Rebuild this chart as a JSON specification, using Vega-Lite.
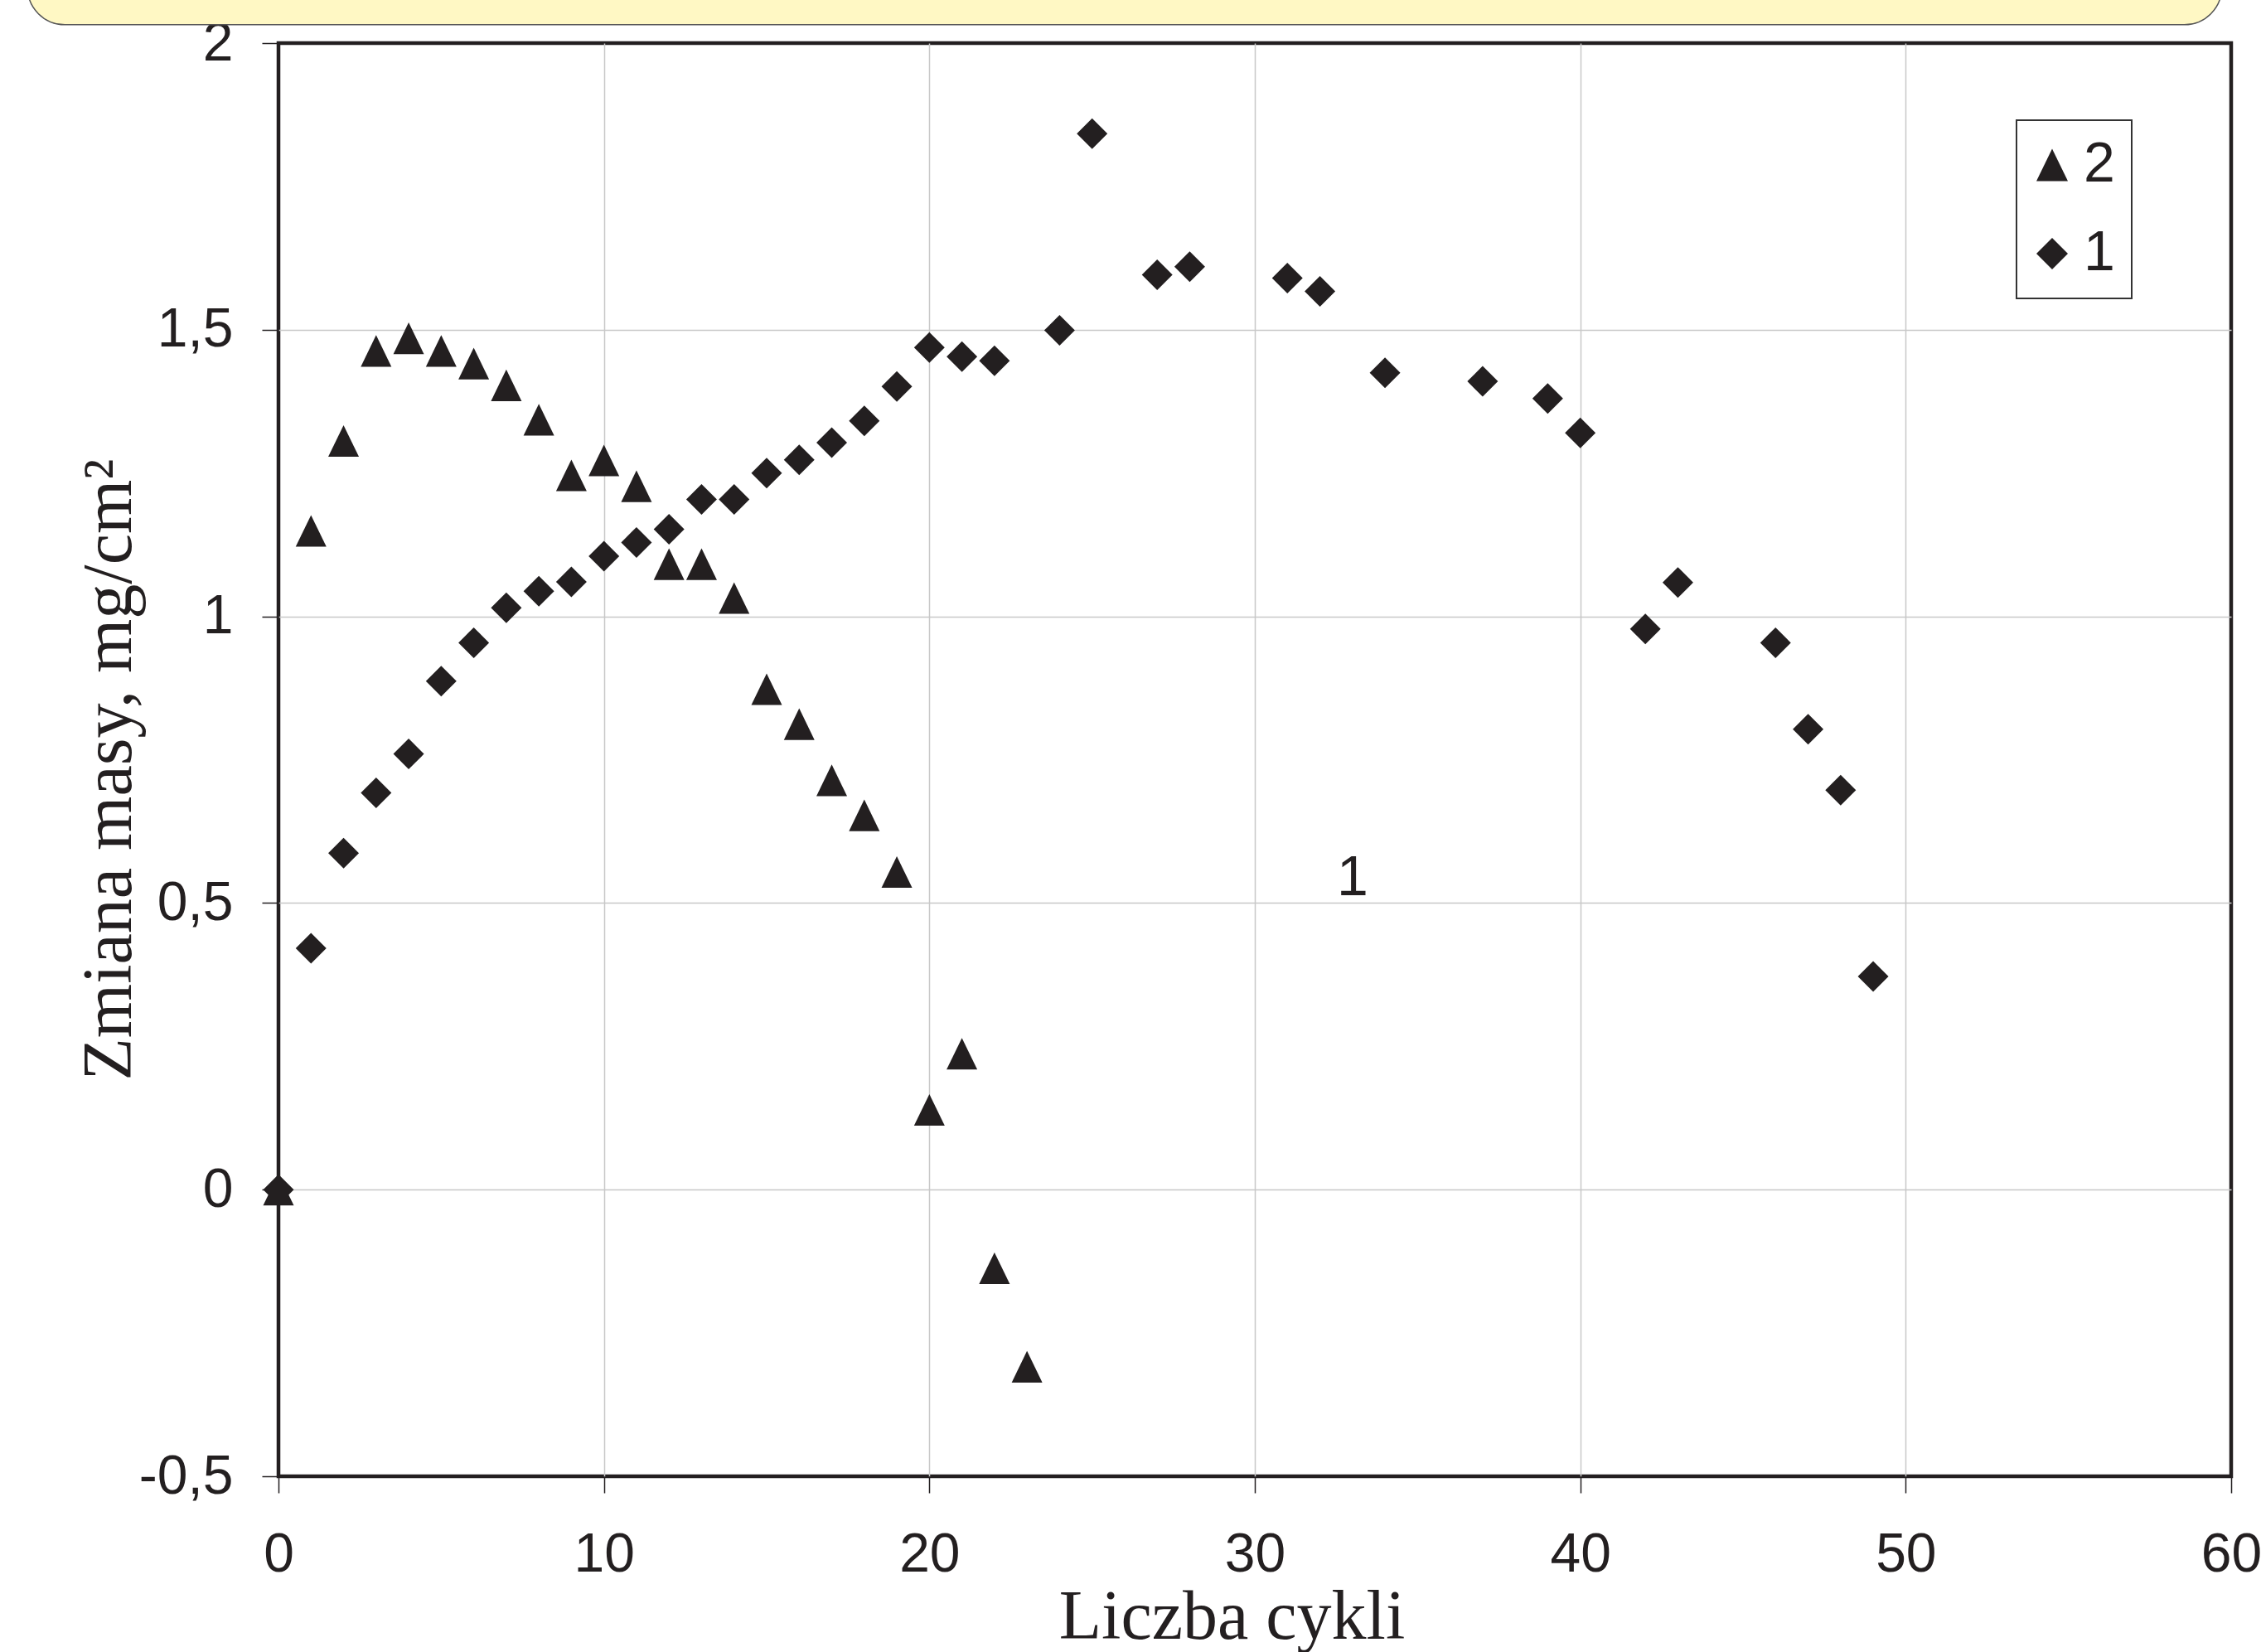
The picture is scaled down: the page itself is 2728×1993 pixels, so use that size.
{
  "$schema": "https://vega.github.io/schema/vega-lite/v6.json",
  "width": 2356,
  "height": 1729,
  "autosize": {"type": "none"},
  "padding": {"left": 336, "top": 52, "right": 36, "bottom": 212},
  "background": "white",
  "config": {
    "view": {"stroke": "#231f20", "strokeWidth": 4.5},
    "legend": {"strokeWidth": 2},
    "axis": {
      "domain": false,
      "grid": true,
      "gridColor": "#c8c8c8",
      "gridWidth": 1.5,
      "ticks": true,
      "tickColor": "#231f20",
      "tickWidth": 1.5,
      "tickSize": 20,
      "labelFont": "'Liberation Sans', Arial, Helvetica, sans-serif",
      "labelFontSize": 66,
      "labelColor": "#231f20",
      "labelOverlap": false,
      "titleFont": "'Liberation Serif', 'Times New Roman', serif",
      "titleFontSize": 84,
      "titleFontWeight": "normal",
      "titleColor": "#231f20"
    }
  },
  "datasets": {
    "pomiary": [
      {"seria": "2", "cykl": 0, "zmiana": 0.0},
      {"seria": "2", "cykl": 1, "zmiana": 1.149},
      {"seria": "2", "cykl": 2, "zmiana": 1.306},
      {"seria": "2", "cykl": 3, "zmiana": 1.463},
      {"seria": "2", "cykl": 4, "zmiana": 1.485},
      {"seria": "2", "cykl": 5, "zmiana": 1.463},
      {"seria": "2", "cykl": 6, "zmiana": 1.441},
      {"seria": "2", "cykl": 7, "zmiana": 1.403},
      {"seria": "2", "cykl": 8, "zmiana": 1.343},
      {"seria": "2", "cykl": 9, "zmiana": 1.246},
      {"seria": "2", "cykl": 10, "zmiana": 1.272},
      {"seria": "2", "cykl": 11, "zmiana": 1.227},
      {"seria": "2", "cykl": 12, "zmiana": 1.091},
      {"seria": "2", "cykl": 13, "zmiana": 1.091},
      {"seria": "2", "cykl": 14, "zmiana": 1.032},
      {"seria": "2", "cykl": 15, "zmiana": 0.873},
      {"seria": "2", "cykl": 16, "zmiana": 0.812},
      {"seria": "2", "cykl": 17, "zmiana": 0.714},
      {"seria": "2", "cykl": 18, "zmiana": 0.653},
      {"seria": "2", "cykl": 19, "zmiana": 0.554},
      {"seria": "2", "cykl": 20, "zmiana": 0.139},
      {"seria": "2", "cykl": 21, "zmiana": 0.237},
      {"seria": "2", "cykl": 22, "zmiana": -0.137},
      {"seria": "2", "cykl": 23, "zmiana": -0.309},
      {"seria": "1", "cykl": 0, "zmiana": 0.0},
      {"seria": "1", "cykl": 1, "zmiana": 0.421},
      {"seria": "1", "cykl": 2, "zmiana": 0.587},
      {"seria": "1", "cykl": 3, "zmiana": 0.692},
      {"seria": "1", "cykl": 4, "zmiana": 0.76},
      {"seria": "1", "cykl": 5, "zmiana": 0.887},
      {"seria": "1", "cykl": 6, "zmiana": 0.954},
      {"seria": "1", "cykl": 7, "zmiana": 1.015},
      {"seria": "1", "cykl": 8, "zmiana": 1.044},
      {"seria": "1", "cykl": 9, "zmiana": 1.06},
      {"seria": "1", "cykl": 10, "zmiana": 1.105},
      {"seria": "1", "cykl": 11, "zmiana": 1.129},
      {"seria": "1", "cykl": 12, "zmiana": 1.152},
      {"seria": "1", "cykl": 13, "zmiana": 1.204},
      {"seria": "1", "cykl": 14, "zmiana": 1.204},
      {"seria": "1", "cykl": 15, "zmiana": 1.25},
      {"seria": "1", "cykl": 16, "zmiana": 1.273},
      {"seria": "1", "cykl": 17, "zmiana": 1.303},
      {"seria": "1", "cykl": 18, "zmiana": 1.341},
      {"seria": "1", "cykl": 19, "zmiana": 1.401},
      {"seria": "1", "cykl": 20, "zmiana": 1.469},
      {"seria": "1", "cykl": 21, "zmiana": 1.453},
      {"seria": "1", "cykl": 22, "zmiana": 1.446},
      {"seria": "1", "cykl": 24, "zmiana": 1.499},
      {"seria": "1", "cykl": 25, "zmiana": 1.842},
      {"seria": "1", "cykl": 27, "zmiana": 1.596},
      {"seria": "1", "cykl": 28, "zmiana": 1.61},
      {"seria": "1", "cykl": 31, "zmiana": 1.59},
      {"seria": "1", "cykl": 32, "zmiana": 1.567},
      {"seria": "1", "cykl": 34, "zmiana": 1.425},
      {"seria": "1", "cykl": 37, "zmiana": 1.41},
      {"seria": "1", "cykl": 39, "zmiana": 1.38},
      {"seria": "1", "cykl": 40, "zmiana": 1.32},
      {"seria": "1", "cykl": 42, "zmiana": 0.978},
      {"seria": "1", "cykl": 43, "zmiana": 1.059},
      {"seria": "1", "cykl": 46, "zmiana": 0.954},
      {"seria": "1", "cykl": 47, "zmiana": 0.803},
      {"seria": "1", "cykl": 48, "zmiana": 0.697},
      {"seria": "1", "cykl": 49, "zmiana": 0.372}
    ],
    "ramka": [{"x0": -7.71, "x1": 59.71, "y0": 2.032, "y1": 2.25}],
    "adnotacja": [{"cykl": 33, "zmiana": 0.514, "tekst": "1"}]
  },
  "layer": [
    {
      "data": {"name": "ramka"},
      "mark": {"type": "rect", "clip": false, "fill": "#fff8c4", "stroke": "#555555", "strokeWidth": 1.5, "cornerRadius": 45},
      "encoding": {
        "x": {"field": "x0", "type": "quantitative", "title": "Liczba cykli", "scale": {"domain": [0, 60], "nice": false, "zero": false}},
        "x2": {"field": "x1"},
        "y": {"field": "y0", "type": "quantitative", "title": "Zmiana masy, mg/cm²", "scale": {"domain": [-0.5, 2], "nice": false, "zero": false}},
        "y2": {"field": "y1"}
      }
    },
    {
      "data": {"name": "pomiary"},
      "mark": {"type": "point", "filled": true, "color": "#231f20", "opacity": 1, "size": 1369, "strokeWidth": 0},
      "encoding": {
        "x": {
          "field": "cykl",
          "type": "quantitative",
          "title": "Liczba cykli",
          "scale": {"domain": [0, 60], "nice": false, "zero": false},
          "axis": {
            "title": "Liczba cykli",
            "values": [0, 10, 20, 30, 40, 50, 60],
            "gridOpacity": {"condition": {"test": "datum.value === 0 || datum.value === 60", "value": 0}, "value": 1},
            "labelPadding": 42,
            "labelFlush": false,
            "titleX": 1150,
            "titleY": 195,
            "titleAlign": "center",
            "titleBaseline": "alphabetic"
          }
        },
        "y": {
          "field": "zmiana",
          "type": "quantitative",
          "title": "Zmiana masy, mg/cm²",
          "scale": {"domain": [-0.5, 2], "nice": false, "zero": false},
          "axis": {
            "title": "Zmiana masy, mg/cm²",
            "values": [-0.5, 0, 0.5, 1, 1.5, 2],
            "gridOpacity": {"condition": {"test": "datum.value === -0.5 || datum.value === 2", "value": 0}, "value": 1},
            "labelExpr": "replace(toString(datum.value), '.', ',')",
            "labelPadding": 35,
            "labelFlush": false,
            "titleAngle": 270,
            "titleX": -179,
            "titleY": 876,
            "titleAlign": "center",
            "titleBaseline": "alphabetic"
          }
        },
        "shape": {
          "field": "seria",
          "type": "nominal",
          "scale": {"domain": ["2", "1"], "range": ["M0,-1.03L1,1.03L-1,1.03Z", "diamond"]},
          "legend": {
            "title": null,
            "orient": "none",
            "legendX": 2097,
            "legendY": 93,
            "padding": 20,
            "rowPadding": 39,
            "symbolSize": 1444,
            "symbolOffset": -11,
            "symbolFillColor": "#231f20",
            "symbolStrokeColor": "#231f20",
            "symbolStrokeWidth": 0,
            "labelFont": "'Liberation Sans', Arial, Helvetica, sans-serif",
            "labelFontSize": 68,
            "labelColor": "#231f20",
            "labelOffset": 4,
            "strokeColor": "#333333",
            "fillColor": "white"
          }
        }
      }
    },
    {
      "data": {"name": "adnotacja"},
      "mark": {"type": "text", "font": "'Liberation Sans', Arial, Helvetica, sans-serif", "fontSize": 68, "color": "#231f20", "align": "center", "baseline": "alphabetic"},
      "encoding": {
        "x": {"field": "cykl", "type": "quantitative", "title": "Liczba cykli"},
        "y": {"field": "zmiana", "type": "quantitative", "title": "Zmiana masy, mg/cm²"},
        "text": {"field": "tekst"}
      }
    }
  ]
}
